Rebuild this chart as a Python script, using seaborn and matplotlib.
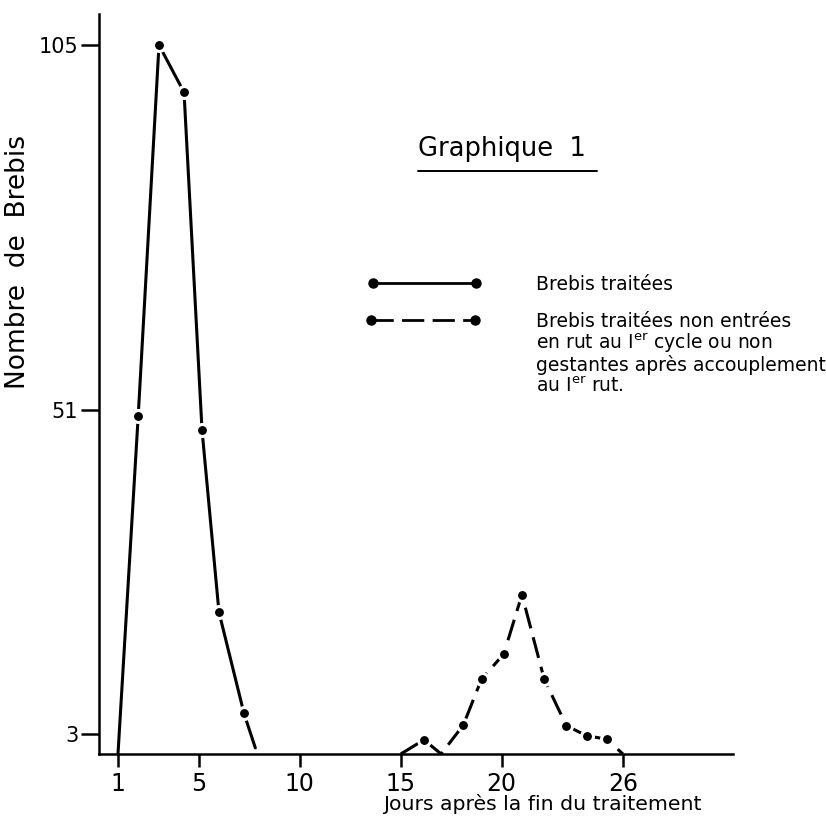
# libraries
import seaborn as sns
import matplotlib.pyplot as plt
from matplotlib.lines import Line2D

# values: days after end of treatment / number of ewes
days_treated = [1.0, 2.0, 3.03, 4.27, 5.16, 6.0, 7.24, 7.8]
ewes_treated = [0, 50, 105, 98, 48, 21, 6, 0.9]
days_return = [15.0, 16.15, 17.0, 18.1, 19.0, 20.1, 21.0, 22.1, 23.2, 24.2, 25.2, 26.0]
ewes_return = [0, 2.1, 0, 4.3, 11.1, 14.8, 23.6, 11.1, 4.2, 2.7, 2.2, 0]

x_ticks = [1, 5, 10, 15, 20, 26]
y_ticks = [3, 51, 105]

title = "Graphique  1"
label_treated = "Brebis traitées"
label_return = ["Brebis traitées non entrées",
                r"en rut au I$^{er}$ cycle ou non",
                "gestantes après accouplement",
                r"au I$^{er}$ rut."]

sns.set_style("ticks")
plt.rcParams["font.family"] = ["DejaVu Sans"]
plt.rcParams["mathtext.default"] = "regular"
plt.rcParams["text.color"] = "black"
plt.rcParams["xtick.color"] = "black"
plt.rcParams["ytick.color"] = "black"

W, H = 826, 823
fig = plt.figure(figsize=(W / 100, H / 100), dpi=100)
ax = fig.add_axes([99 / W, 69 / H, (733 - 99) / W, (754 - 14) / H])

line_kw = dict(color="black", lw=2.2, marker="o", ms=8.6, mfc="black",
               mec="white", mew=2.2, estimator=None, sort=False)

sns.lineplot(x=days_treated, y=ewes_treated, ax=ax,
             markevery=[1, 2, 3, 4, 5, 6], **line_kw)
sns.lineplot(x=days_return, y=ewes_return, ax=ax, linestyle=(0, (7, 3)),
             markevery=[1, 3, 4, 5, 6, 7, 8, 9, 10], **line_kw)

ax.set_xlim(0.06, 31.45)
ax.set_ylim(0, 109.6)
ax.set_xticks(x_ticks)
ax.set_yticks(y_ticks)
ax.tick_params(axis="x", length=9, width=1.8, pad=4, labelsize=17)
ax.tick_params(axis="y", length=13, width=1.8, pad=2, labelsize=15)
for s in ["left", "bottom"]:
    ax.spines[s].set_linewidth(1.8)
    ax.spines[s].set_color("black")
sns.despine(ax=ax)
ax.grid(False)

# axis titles
fig.text(18 / W, 1 - 262 / H, "Nombre  de  Brebis", rotation=90,
         ha="center", va="center", fontsize=19)
fig.text(383 / W, 1 - 810 / H, "Jours après la fin du traitement",
         ha="left", va="baseline", fontsize=14.7)

# chart title with underline
fig.text(418 / W, 1 - 156 / H, title, ha="left", va="baseline", fontsize=18.5)
fig.add_artist(Line2D([418 / W, 597 / W], [1 - 171 / H] * 2, color="black", lw=1.4))

# hand drawn legend
fig.add_artist(Line2D([373 / W, 476 / W], [1 - 282.6 / H] * 2, color="black",
                      lw=2.0, marker="o", ms=6.5))
fig.add_artist(Line2D([371 / W, 475 / W], [1 - 319.5 / H] * 2, color="black",
                      lw=2.0, marker="o", ms=6.5, linestyle=(0, (8, 3))))
fig.text(536 / W, 1 - 290.5 / H, label_treated, ha="left", va="baseline", fontsize=13.5)
for i, txt in enumerate(label_return):
    fig.text(536 / W, 1 - (327 + 21.8 * i) / H, txt, ha="left", va="baseline", fontsize=13.5)

plt.savefig("out.png", dpi=100)
